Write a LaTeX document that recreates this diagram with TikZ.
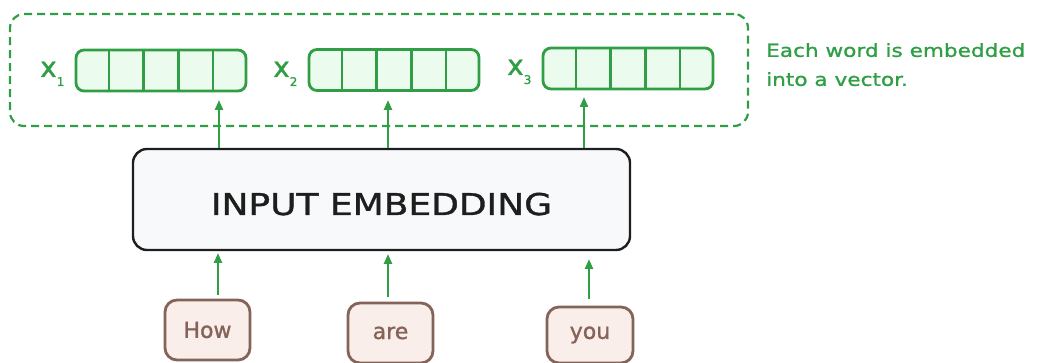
\documentclass[tikz,border=0pt]{standalone}
\usepackage{fontspec}
\newfontfamily\hand[FakeStretch=1.2,FakeBold=1.2]{DejaVu Sans}
\newfontfamily\handn[FakeBold=1.2]{DejaVu Sans}
\usetikzlibrary{arrows.meta,calc}
\definecolor{grn}{HTML}{2F9E44}
\definecolor{grnfill}{HTML}{EBFBEE}
\definecolor{brn}{HTML}{846358}
\definecolor{brnfill}{HTML}{F9EEEA}
\definecolor{ink}{HTML}{1E1E1E}
\definecolor{boxfill}{HTML}{F8F9FA}
\begin{document}
\begin{tikzpicture}[x=1pt,y=-1pt,
  vec/.style={draw=grn, fill=grnfill, line width=2.8pt, rounded corners=8pt,
    minimum width=170pt, minimum height=41pt, inner sep=0pt},
  vecline/.style={draw=grn, line width=2.6pt},
  grpbox/.style={draw=grn, line width=2.2pt, dash pattern=on 8pt off 5pt,
    rounded corners=14pt, minimum width=738pt, minimum height=112pt, inner sep=0pt},
  embbox/.style={draw=ink, fill=boxfill, line width=2.4pt, rounded corners=14pt,
    minimum width=497pt, minimum height=101pt, inner sep=0pt,
    text height=31pt, text depth=0pt,
    font=\hand\fontsize{30}{30}\selectfont, text=ink},
  wordbox/.style={draw=brn, fill=brnfill, line width=2.8pt, rounded corners=12pt,
    minimum width=85pt, minimum height=60pt, inner sep=0pt,
    font=\handn\fontsize{22}{22}\selectfont, text=brn},
  xlab/.style={text=grn, inner sep=0pt, anchor=base west,
    font=\handn\fontsize{28}{28}\selectfont},
  note/.style={text=grn, inner sep=0pt, anchor=north west, align=left,
    font=\hand\fontsize{18}{29}\selectfont},
  arr/.style={draw=grn, line width=2.4pt, -{Triangle[length=10pt,width=8pt]}}
]
\useasboundingbox (0,0) rectangle (1039,363);

% group of vectors
\node[grpbox] (grp) at (379,70) {};

\node[vec] (v1) at (161,70.5) {};
\node[vec] (v2) at (394,70) {};
\node[vec] (v3) at (628,68.5) {};
\foreach \v in {v1,v2,v3}
  \foreach \i in {1,...,4}
    \draw[vecline] ($(\v.north west)!\i/5!(\v.north east)$) -- ($(\v.south west)!\i/5!(\v.south east)$);

\node[xlab] (x1) at (40,77) {x\raisebox{-9pt}{\fontsize{12}{12}\selectfont 1}};
\node[xlab] (x2) at (273,77) {x\raisebox{-9pt}{\fontsize{12}{12}\selectfont 2}};
\node[xlab] (x3) at (507,75) {x\raisebox{-9pt}{\fontsize{12}{12}\selectfont 3}};

\node[note] (nt) at (766,43) {Each word is embedded\\into a vector.};

% embedding box
\node[embbox] (emb) at (381.5,199.5) {INPUT EMBEDDING};

% words
\node[wordbox] (w1) at (207.5,330) {How};
\node[wordbox] (w2) at (390.5,333) {are};
\node[wordbox, minimum width=86pt, minimum height=56pt] (w3) at (590,335) {you};

% arrow end points
\coordinate (t1) at (219,100);
\coordinate (t2) at (388,100);
\coordinate (t3) at (584,97);
\coordinate (b1) at (218,253);
\coordinate (b2) at (388,254);
\coordinate (b3) at (589,259);

\draw[arr] (emb.north -| t1) -- (t1);
\draw[arr] (emb.north -| t2) -- (t2);
\draw[arr] (emb.north -| t3) -- (t3);

\draw[arr, shorten <=4pt] (w1.north -| b1) -- (b1);
\draw[arr, shorten <=5pt] (w2.north -| b2) -- (b2);
\draw[arr, shorten <=7pt] (w3.north -| b3) -- (b3);
\end{tikzpicture}
\end{document}
